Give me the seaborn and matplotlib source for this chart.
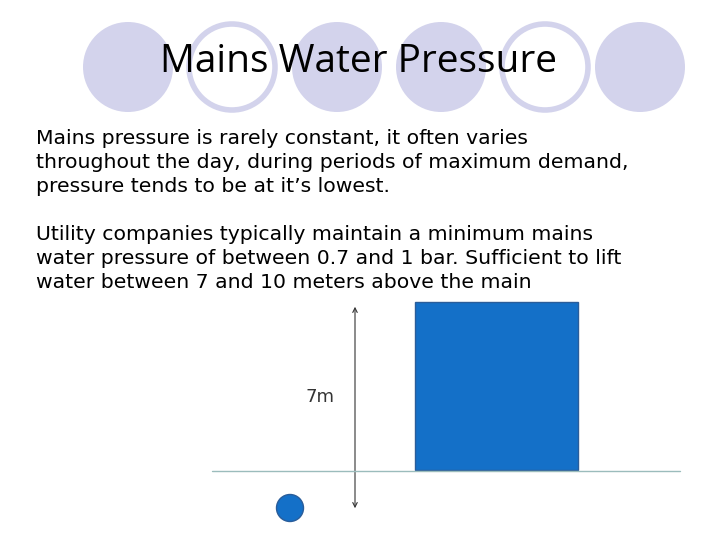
import matplotlib
matplotlib.use("Agg")
import matplotlib.pyplot as plt
from matplotlib.patches import Circle, Rectangle, FancyArrowPatch
import seaborn as sns

sns.set_theme(style="white", font="DejaVu Sans")

title = "Mains Water Pressure"
para1 = ["Mains pressure is rarely constant, it often varies",
         "throughout the day, during periods of maximum demand,",
         "pressure tends to be at it\u2019s lowest."]
para2 = ["Utility companies typically maintain a minimum mains",
         "water pressure of between 0.7 and 1 bar. Sufficient to lift",
         "water between 7 and 10 meters above the main"]
# decorative circles: x centre, filled?
deco_x = [128, 232, 337, 441, 545, 640]
deco_filled = [True, False, True, True, False, True]
height_label = "7m"

fig = plt.figure(figsize=(7.2, 5.4), dpi=100)
ax = fig.add_axes([0, 0, 1, 1])
ax.set_xlim(0, 720)
ax.set_ylim(540, 0)
ax.axis("off")

lav = "#d3d3ec"
for x, f in zip(deco_x, deco_filled):
    if f:
        ax.add_patch(Circle((x, 67), 45, facecolor=lav, edgecolor="none"))
    else:
        ax.add_patch(Circle((x, 67), 43, facecolor="white", edgecolor=lav, linewidth=4))

ax.text(358, 62, title, ha="center", va="center", fontsize=28, color="black",
        family="Open Sans")

for i, line in enumerate(para1):
    ax.text(36, 139 + i * 24, line, fontsize=14.7, va="center", color="black",
            family="DejaVu Sans")
for i, line in enumerate(para2):
    ax.text(36, 235 + i * 24, line, fontsize=14.7, va="center", color="black",
            family="DejaVu Sans")

blue = "#1470c8"
ax.add_patch(Rectangle((415, 302), 163, 168, facecolor=blue, edgecolor="#2a5d9a", linewidth=1))
ax.plot([212, 680], [471, 471], color="#9bbcbc", linewidth=1)
ax.add_patch(FancyArrowPatch((355, 304), (355, 511), arrowstyle="<->", mutation_scale=8,
                             color="#333333", linewidth=0.8))
ax.text(320, 397, height_label, ha="center", va="center", fontsize=13, color="#333333")
ax.add_patch(Circle((290, 508), 13.5, facecolor=blue, edgecolor="#2a5d9a", linewidth=1))

fig.savefig("out.png", dpi=100)
